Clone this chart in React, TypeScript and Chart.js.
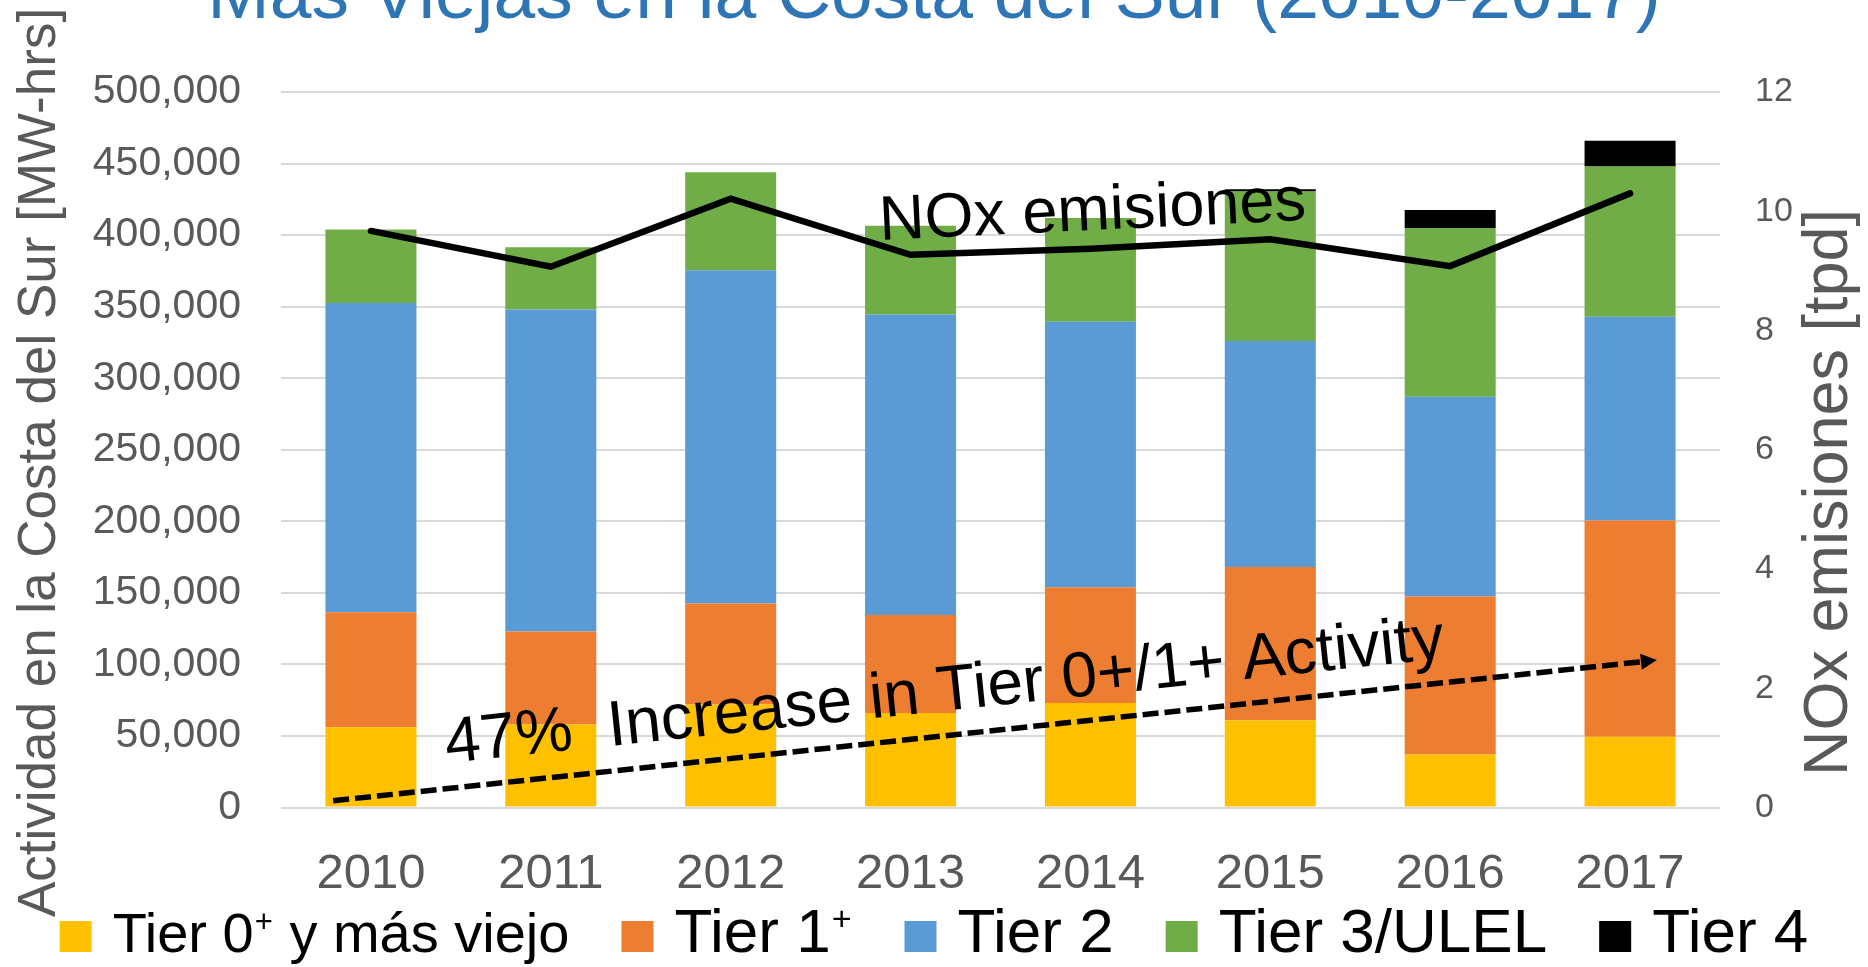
import React, { useEffect, useRef } from "react";
import { Chart, registerables } from "chart.js";

Chart.register(...registerables);

// ---------- data ----------
const years = ["2010", "2011", "2012", "2013", "2014", "2015", "2016", "2017"];
const tier0 = [56000, 58000, 72000, 66000, 73000, 61000, 37000, 49500];
const tier1 = [80500, 65000, 70500, 68500, 81000, 107000, 110500, 151000];
const tier2 = [216000, 225000, 233000, 210000, 185500, 158000, 139500, 142500];
const tier3 = [51500, 43500, 68500, 62000, 72500, 104500, 118000, 105000];
const tier4 = [0, 0, 0, 0, 0, 1500, 12500, 18000];
const noxTpd = [9.67, 9.07, 10.21, 9.27, 9.37, 9.53, 9.08, 10.3];

const seriesLabels = ["Tier 0\u207A y más viejo", "Tier 1\u207A", "Tier 2", "Tier 3/ULEL", "Tier 4"];
const lineLabel = "NOx emisiones";
const leftMax = 500000;
const leftStep = 50000;
const rightMax = 12;
const rightStep = 2;

const titleText = "Más Viejas en la Costa del Sur (2010-2017)";
const leftAxisTitle = "Actividad en la Costa del Sur [MW-hrs]";
const rightAxisTitle = "NOx emisiones [tpd]";
const trendText = "47%  Increase in Tier 0+/1+ Activity";
// annotation anchors in data space: [category index, left-axis value]
const lineNoteAt = [2.83, 396600];
const trendStart = [-0.21, 4750];
const trendEnd = [7.149, 103000];
const trendTextAt = [0.4225, 31100];

// ---------- styles ----------
const FONT = "'Liberation Sans', Arial, 'DejaVu Sans', sans-serif";
const GRAY = "#595959";
const COLORS = ["#FFC000", "#ED7D31", "#5B9BD5", "#70AD47", "#000000"];
const SUP = "\u207A";

// draw a label, rendering the superscript plus as a small raised "+"
function drawLabel(ctx: any, text: string, x: number, y: number, size: number, measureOnly = false) {
  let cx = x;
  const parts = text.split(SUP);
  parts.forEach((p, i) => {
    ctx.font = `${size}px ${FONT}`;
    if (!measureOnly) ctx.fillText(p, cx, y);
    cx += ctx.measureText(p).width;
    if (i < parts.length - 1) {
      const s = Math.round(size * 0.55);
      ctx.font = `${s}px ${FONT}`;
      if (!measureOnly) ctx.fillText("+", cx + 1, y - size * 0.36);
      cx += ctx.measureText("+").width + 2;
    }
  });
  return cx - x;
}

const overlay = {
  id: "overlay",
  afterDatasetsDraw(chart: any) {
    const { ctx, scales } = chart;
    const x = scales.x;
    const y = scales.y;
    ctx.save();
    ctx.fillStyle = "#000";
    ctx.font = `63px ${FONT}`;
    ctx.textAlign = "left";
    ctx.textBaseline = "alphabetic";
    ctx.save();
    ctx.translate(x.getPixelForValue(lineNoteAt[0]), y.getPixelForValue(lineNoteAt[1]));
    ctx.rotate((-2.7 * Math.PI) / 180);
    ctx.fillText(lineLabel, 0, 0);
    ctx.restore();

    // trend arrow
    const x0 = x.getPixelForValue(trendStart[0]);
    const y0 = y.getPixelForValue(trendStart[1]);
    const x1 = x.getPixelForValue(trendEnd[0]);
    const y1 = y.getPixelForValue(trendEnd[1]);
    const ang = Math.atan2(y1 - y0, x1 - x0);
    const headLen = 16;
    const headW = 8;
    const bx = x1 - headLen * Math.cos(ang);
    const by = y1 - headLen * Math.sin(ang);
    ctx.strokeStyle = "#000";
    ctx.lineWidth = 5.5;
    ctx.setLineDash([16, 6]);
    ctx.beginPath();
    ctx.moveTo(x0, y0);
    ctx.lineTo(bx, by);
    ctx.stroke();
    ctx.setLineDash([]);
    ctx.beginPath();
    ctx.moveTo(x1, y1);
    ctx.lineTo(bx - headW * Math.sin(ang), by + headW * Math.cos(ang));
    ctx.lineTo(bx + headW * Math.sin(ang), by - headW * Math.cos(ang));
    ctx.closePath();
    ctx.fill();

    // trend text
    ctx.save();
    ctx.translate(x.getPixelForValue(trendTextAt[0]), y.getPixelForValue(trendTextAt[1]));
    ctx.rotate((-6 * Math.PI) / 180);
    ctx.font = `64px ${FONT}`;
    ctx.fillText(trendText, 0, 0);
    ctx.restore();
    ctx.restore();
  },
  afterDraw(chart: any) {
    const { ctx } = chart;
    ctx.save();
    ctx.fillStyle = "#2E75B6";
    ctx.font = `75px ${FONT}`;
    ctx.textAlign = "center";
    ctx.textBaseline = "alphabetic";
    ctx.fillText(titleText, chart.width / 2, 18);

    ctx.fillStyle = GRAY;
    ctx.save();
    ctx.translate(55, 462.5);
    ctx.rotate(-Math.PI / 2);
    ctx.font = `53px ${FONT}`;
    ctx.fillText(leftAxisTitle, 0, 0);
    ctx.restore();
    ctx.save();
    ctx.translate(1847, 492.5);
    ctx.rotate(-Math.PI / 2);
    ctx.font = `63px ${FONT}`;
    ctx.fillText(rightAxisTitle, 0, 0);
    ctx.restore();

    // legend
    const bars = chart.data.datasets.filter((d: any) => d.type === "bar");
    const sizes = bars.map((_: any, i: number) => (i === 0 ? 56 : 62));
    const box = 32;
    const boxGap = 21;
    const itemGap = 52;
    ctx.textAlign = "left";
    const widths = bars.map((d: any, i: number) => box + boxGap + drawLabel(ctx, d.label, 0, 0, sizes[i], true));
    const total = widths.reduce((a: number, b: number) => a + b, 0) + itemGap * (bars.length - 1);
    let cx = chart.width / 2 - total / 2;
    const baseY = 952;
    bars.forEach((d: any, i: number) => {
      ctx.fillStyle = d.backgroundColor;
      ctx.fillRect(cx, baseY - 31, box, 31);
      ctx.fillStyle = "#000";
      drawLabel(ctx, d.label, cx + box + boxGap, baseY, sizes[i]);
      cx += widths[i] + itemGap;
    });
    ctx.restore();
  },
};

export default function App() {
  const ref = useRef<HTMLCanvasElement | null>(null);
  useEffect(() => {
    if (!ref.current) return;
    Chart.defaults.font.family = FONT;
    const tierData = [tier0, tier1, tier2, tier3, tier4];
    const chart = new Chart(ref.current, {
      data: {
        labels: years,
        datasets: [
          {
            type: "line" as const,
            label: lineLabel,
            data: noxTpd,
            yAxisID: "y1",
            borderColor: "#000",
            borderWidth: 6.5,
            pointRadius: 0,
            tension: 0,
            borderCapStyle: "round",
            order: 0,
            clip: false as any,
          },
          ...tierData.map((vals, i) => ({
            type: "bar" as const,
            label: seriesLabels[i],
            data: vals,
            backgroundColor: COLORS[i],
            borderWidth: 0,
            yAxisID: "y",
            stack: "s",
            categoryPercentage: 0.506,
            barPercentage: 1,
            order: 1,
          })),
        ],
      } as any,
      options: {
        responsive: false,
        animation: false,
        devicePixelRatio: 1,
        layout: { padding: { top: 92, bottom: 60, left: 0, right: 0 } },
        plugins: { legend: { display: false }, tooltip: { enabled: false }, title: { display: false } },
        scales: {
          x: {
            stacked: true,
            grid: { display: false },
            border: { display: false },
            ticks: { color: GRAY, font: { size: 49 }, padding: 30 },
            afterFit: (s: any) => {
              s.height = 99.5;
            },
          },
          y: {
            stacked: true,
            position: "left",
            min: 0,
            max: leftMax,
            grid: { color: "#D9D9D9", lineWidth: 2, drawTicks: false },
            border: { display: false },
            ticks: {
              stepSize: leftStep,
              color: GRAY,
              font: { size: 41 },
              padding: 40,
              callback: (v: any) => Number(v).toLocaleString("en-US"),
            },
            afterFit: (s: any) => {
              s.width = 281;
            },
          },
          y1: {
            position: "right",
            min: 0,
            max: rightMax,
            grid: { display: false, drawTicks: false },
            border: { display: false },
            ticks: { stepSize: rightStep, color: GRAY, font: { size: 34 }, padding: 35 },
            afterFit: (s: any) => {
              s.width = 148;
            },
          },
        },
      } as any,
      plugins: [overlay],
    });
    return () => chart.destroy();
  }, []);
  return (
    <div style={{ position: "fixed", left: 0, top: 0, width: 1868, height: 967, background: "#fff" }}>
      <canvas ref={ref} width={1868} height={967} style={{ display: "block", width: 1868, height: 967 }} />
    </div>
  );
}
